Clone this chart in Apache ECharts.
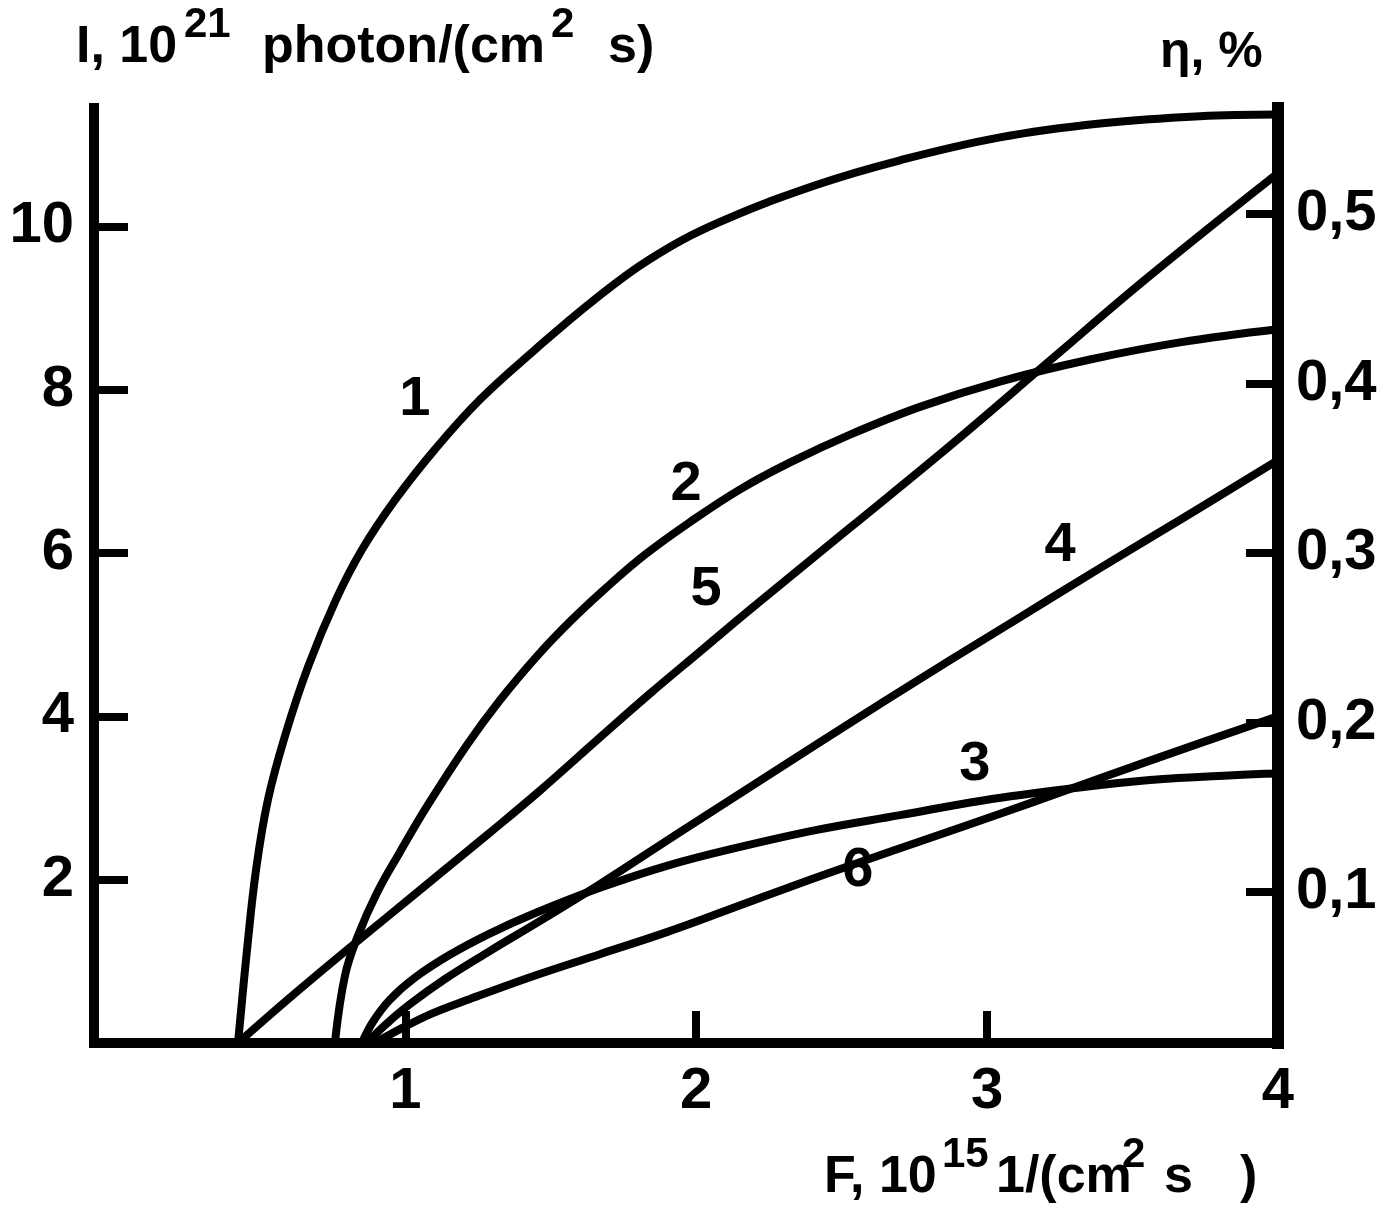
<!DOCTYPE html>
<html>
<head>
<meta charset="utf-8">
<script src="https://cdn.jsdelivr.net/npm/echarts@6/dist/echarts.min.js"></script>
<style>
html,body{margin:0;padding:0;background:#fff;}
#chart{width:1400px;height:1212px;}
</style>
</head>
<body>
<div id="chart"></div>
<script>
// ---- Data ----
// x: F, 10^15 1/(cm^2 s)
const xTicks = [1, 2, 3, 4];
const leftTicks = [2, 4, 6, 8, 10];          // I, 10^21 photon/(cm^2 s)
const rightTicks = [0.1, 0.2, 0.3, 0.4, 0.5]; // eta, %

// Curves 1-3: intensity I (left axis)
const curve1 = [[0.425,0],[0.456,1.14],[0.487,2.12],[0.528,2.98],[0.590,3.80],[0.666,4.61],[0.762,5.43],[0.851,6.04],[0.965,6.65],[1.102,7.27],[1.257,7.88],[1.446,8.49],[1.642,9.08],[1.841,9.60],[2.072,10.04],[2.415,10.51],[2.701,10.81],[3.044,11.09],[3.388,11.26],[3.732,11.35],[4.0,11.37]];
const curve2 = [[0.758,0],[0.793,0.83],[0.838,1.32],[0.903,1.84],[0.982,2.34],[1.075,2.90],[1.212,3.65],[1.326,4.20],[1.456,4.75],[1.566,5.16],[1.686,5.56],[1.824,5.98],[1.979,6.38],[2.151,6.78],[2.323,7.11],[2.529,7.45],[2.769,7.79],[3.044,8.10],[3.354,8.37],[3.663,8.58],[4.0,8.74]];
const curve3 = [[0.851,0],[0.889,0.26],[0.947,0.53],[1.033,0.80],[1.153,1.08],[1.290,1.34],[1.439,1.58],[1.669,1.90],[1.899,2.17],[2.126,2.38],[2.415,2.61],[2.701,2.79],[2.986,2.97],[3.275,3.11],[3.560,3.22],[3.845,3.28],[4.0,3.30]];
// Curves 4-6: efficiency eta (right axis)
const curve4 = [[0.868,0.011],[0.930,0.0215],[1.016,0.0339],[1.136,0.0487],[1.290,0.0652],[1.462,0.0829],[1.669,0.1047],[1.955,0.1366],[2.185,0.1619],[2.415,0.1873],[2.642,0.2121],[2.873,0.2369],[3.103,0.2611],[3.388,0.2912],[3.674,0.3207],[4.0,0.3549]];
const curve5 = [[0.425,0.011],[0.604,0.0378],[0.776,0.0626],[0.948,0.0868],[1.119,0.1109],[1.291,0.1351],[1.463,0.1599],[1.669,0.1912],[1.841,0.2171],[2.013,0.2419],[2.185,0.2667],[2.529,0.3150],[2.873,0.3634],[3.216,0.4136],[3.560,0.4637],[4.0,0.5242]];
const curve6 = [[0.896,0.011],[0.982,0.0192],[1.095,0.0286],[1.212,0.0363],[1.439,0.0504],[1.669,0.0634],[1.899,0.0764],[2.126,0.0906],[2.415,0.1088],[2.701,0.1259],[2.931,0.1395],[3.158,0.1531],[3.388,0.1672],[3.732,0.1879],[4.0,0.2038]];

// Curve number labels (positions in x / left-axis units)
const curveLabelNames = ['1', '2', '3', '4', '5', '6'];
const curveLabelPos = [[1.033,7.88],[1.965,6.84],[2.958,3.41],[3.251,6.09],[2.034,5.55],[2.556,2.11]];

// ---- Chart ----
const FONT = '"Liberation Sans", Arial, sans-serif';
const chart = echarts.init(document.getElementById('chart'), null, {renderer: 'canvas'});

const lineSeries = (data, yIndex) => ({
  type: 'line', data: data, yAxisIndex: yIndex, xAxisIndex: 0,
  smooth: 0.4, symbol: 'none', silent: true,
  lineStyle: {color: '#000', width: 8, cap: 'round', join: 'round'},
  z: 3
});

const axisCommonLine = w => ({show: true, onZero: false, lineStyle: {color: '#000', width: w, cap: 'square'}});
const labelStyle = {color: '#000', fontSize: 58, fontWeight: 'bold', fontFamily: FONT};

const option = {
  backgroundColor: '#fff',
  animation: false,
  grid: {left: 94, right: 122, top: 108, bottom: 169, containLabel: false},
  xAxis: {
    type: 'value', min: -0.07, max: 4,
    axisLine: axisCommonLine(10),
    axisTick: {show: true, inside: true, length: 32, customValues: xTicks, lineStyle: {color: '#000', width: 8}},
    axisLabel: Object.assign({show: true, margin: 20, customValues: xTicks}, labelStyle),
    splitLine: {show: false}
  },
  yAxis: [
    {
      type: 'value', position: 'left', min: 0, max: 11.45,
      axisLine: axisCommonLine(10),
      axisTick: {show: true, inside: true, length: 34, customValues: leftTicks, lineStyle: {color: '#000', width: 8}},
      axisLabel: Object.assign({show: true, margin: 20, customValues: leftTicks}, labelStyle),
      splitLine: {show: false}
    },
    {
      type: 'value', position: 'right', min: 0.011, max: 0.5626,
      axisLine: axisCommonLine(12),
      axisTick: {show: true, inside: true, length: 32, customValues: rightTicks, lineStyle: {color: '#000', width: 8}},
      axisLabel: Object.assign({show: true, margin: 18, customValues: rightTicks,
        formatter: v => String(Math.round(v * 10) / 10).replace('.', ',')}, labelStyle),
      splitLine: {show: false}
    }
  ],
  series: [
    lineSeries(curve1, 0),
    lineSeries(curve2, 0),
    lineSeries(curve3, 0),
    lineSeries(curve4, 1),
    lineSeries(curve5, 1),
    lineSeries(curve6, 1)
  ]
};
chart.setOption(option);

const txt = (left, top, text, size) => ({type: 'text', left: left, top: top, z: 10,
  style: {text: text, fill: '#000', font: 'bold ' + size + 'px ' + FONT}});

const titleGraphics = [
  // top-left axis title: I, 10^21 photon/(cm^2 s)
  txt(76, 22, 'I, 10', 52),
  txt(184, 4, '21', 42),
  txt(262, 22, 'photon/(cm', 52),
  txt(551, 4, '2', 42),
  txt(608, 22, 's)', 52),
  // top-right axis title
  txt(1160, 28, 'η, %', 50),
  // bottom-right axis title: F, 10^15 1/(cm^2 s)
  txt(824, 1152, 'F, 10', 52),
  txt(942, 1134, '15', 42),
  txt(996, 1152, '1/(cm', 52),
  txt(1122, 1134, '2', 42),
  txt(1164, 1152, 's', 52),
  txt(1240, 1152, ')', 52)
];

const labelGraphics = curveLabelPos.map((p, i) => {
  const px = chart.convertToPixel({xAxisIndex: 0, yAxisIndex: 0}, p);
  return {type: 'text', x: px[0], y: px[1], z: 10,
    style: {text: curveLabelNames[i], fill: '#000', align: 'center', verticalAlign: 'middle',
      font: 'bold 56px ' + FONT}};
});

chart.setOption({graphic: titleGraphics.concat(labelGraphics)});
</script>
</body>
</html>
